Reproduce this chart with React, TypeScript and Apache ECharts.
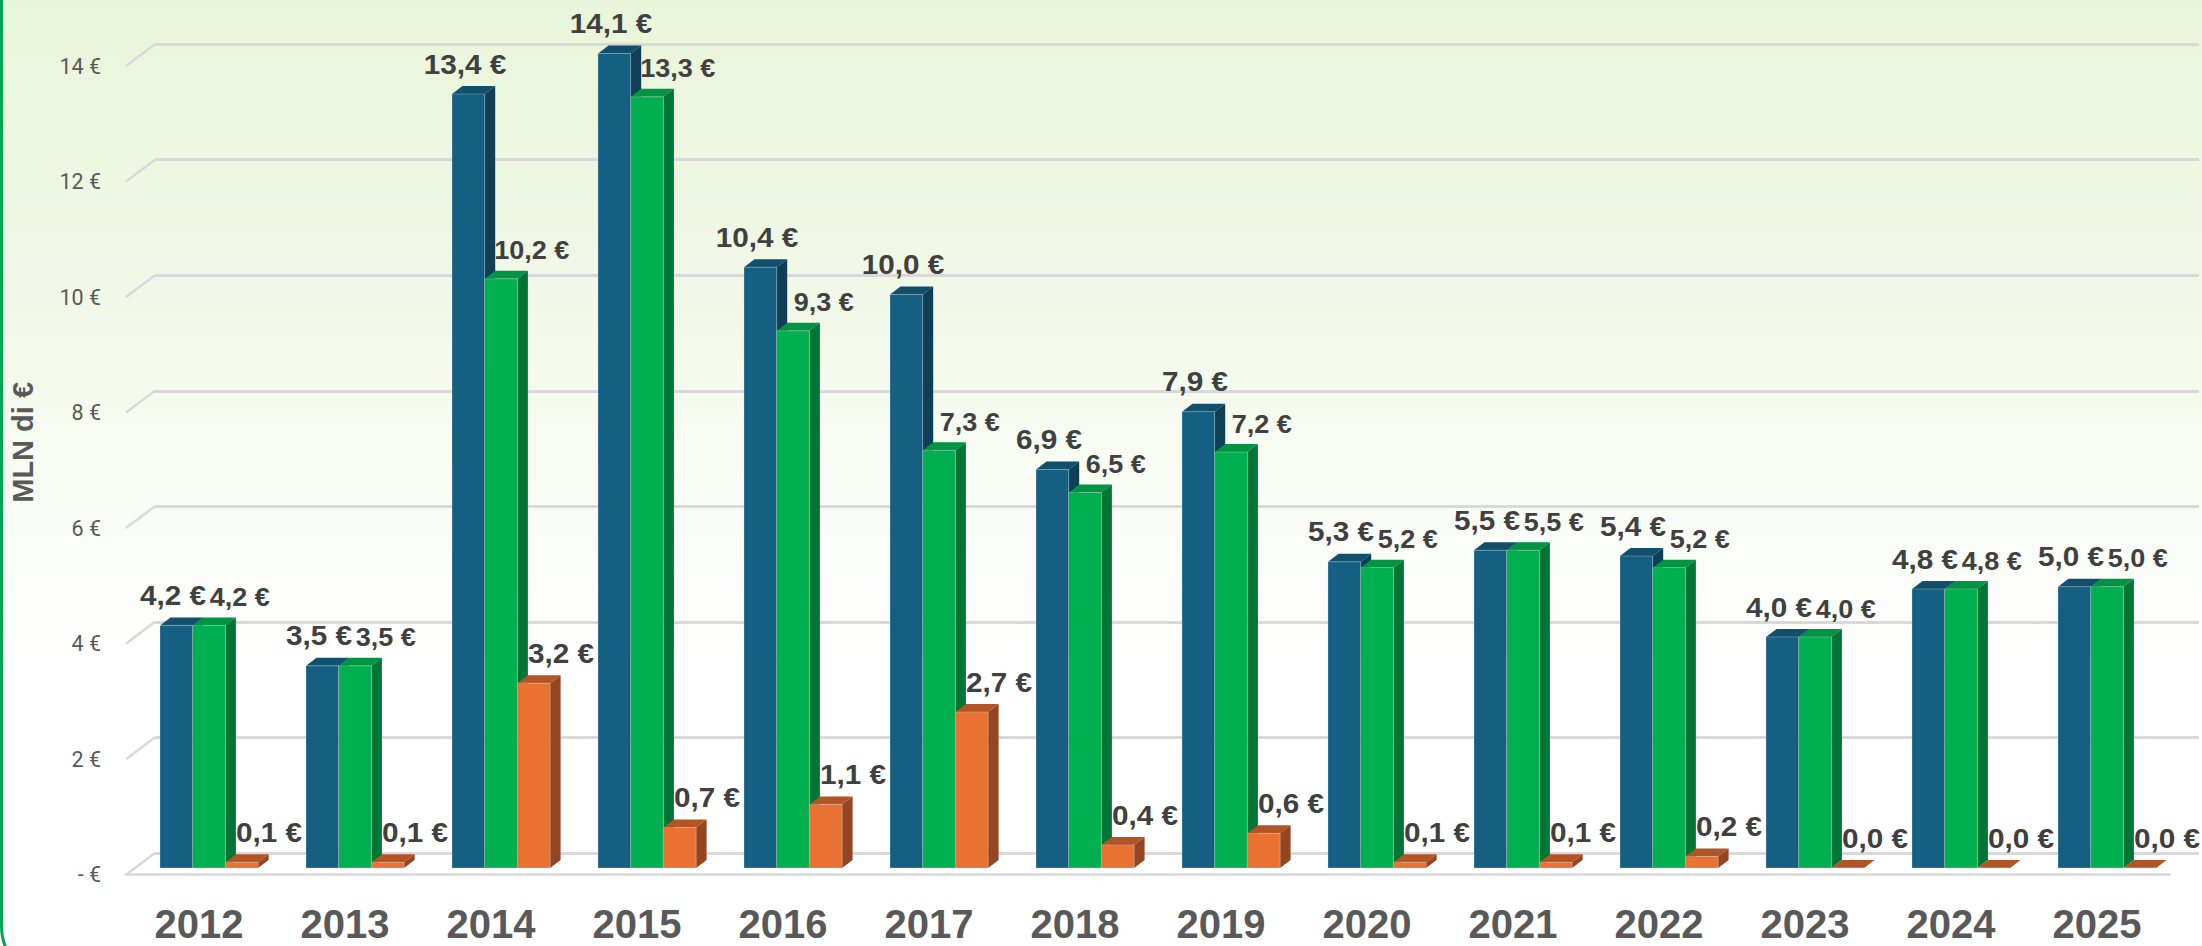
import React, { useEffect, useRef } from "react";
import * as echarts from "echarts";

const years = ["2012","2013","2014","2015","2016","2017","2018","2019","2020","2021","2022","2023","2024","2025"];
const blueValues = [4.2,3.5,13.4,14.1,10.4,9.93,6.9,7.9,5.3,5.5,5.4,4.0,4.83,4.87];
const greenValues = [4.2,3.5,10.2,13.35,9.3,7.23,6.5,7.2,5.2,5.5,5.2,4.0,4.83,4.87];
const orangeValues = [0.1,0.1,3.2,0.7,1.1,2.7,0.4,0.6,0.1,0.1,0.2,0.0,0.0,0.0];
const blueLabels = ["4,2 €","3,5 €","13,4 €","14,1 €","10,4 €","10,0 €","6,9 €","7,9 €","5,3 €","5,5 €","5,4 €","4,0 €","4,8 €","5,0 €"];
const greenLabels = ["4,2 €","3,5 €","10,2 €","13,3 €","9,3 €","7,3 €","6,5 €","7,2 €","5,2 €","5,5 €","5,2 €","4,0 €","4,8 €","5,0 €"];
const orangeLabels = ["0,1 €","0,1 €","3,2 €","0,7 €","1,1 €","2,7 €","0,4 €","0,6 €","0,1 €","0,1 €","0,2 €","0,0 €","0,0 €","0,0 €"];
const wallTicks = [0,2,4,6,8,10,12,14];

const BAR_W = 32.7, DEPTH_X = 10.5, DEPTH_Y = 8, GROUP_X = -39, BASE_DY = -6.7, TEXT_STRETCH = 1.08;

function barSeries(name: string, data: number[], labels: string[], slot: number, front: string, top: string, side: string, labelDx: number, labelDy: number, labelSize: number) {
  return {
    type: "custom", name, xAxisIndex: 0, yAxisIndex: 0, z: 5 + slot, clip: false,
    data: data.map((v, i) => [i, v]),
    renderItem: (params: any, api: any) => {
      const [cx, y1] = api.coord([api.value(0), api.value(1)]);
      const [, y0raw] = api.coord([api.value(0), 0]);
      const x = cx + GROUP_X + slot * BAR_W, y = y1 + BASE_DY, y0 = y0raw + BASE_DY;
      const w = BAR_W;
      return {
        type: "group",
        children: [
          { type: "polygon", shape: { points: [[x, y],[x + DEPTH_X, y - DEPTH_Y],[x + w + DEPTH_X, y - DEPTH_Y],[x + w, y]] }, style: { fill: top } },
          { type: "polygon", shape: { points: [[x + w, y],[x + w + DEPTH_X, y - DEPTH_Y],[x + w + DEPTH_X, y0 - DEPTH_Y],[x + w, y0]] }, style: { fill: side } },
          { type: "rect", shape: { x, y, width: w, height: y0 - y }, style: { fill: front, stroke: "rgba(217,222,222,0.3)", lineWidth: 1 } },
          { type: "text", z2: 50, x: x + labelDx, y: y + labelDy, scaleX: TEXT_STRETCH, style: { x: 0, y: 0, text: labels[params.dataIndex], fill: "#404040", font: `bold ${labelSize}px "Liberation Sans", Arial, sans-serif`, textAlign: "center", textVerticalAlign: "middle" } },
        ],
      };
    },
  };
}

export default function App() {
  const ref = useRef<HTMLDivElement>(null);
  useEffect(() => {
    document.body.style.margin = "0";
    const chart = echarts.init(ref.current!, null, { renderer: "svg" });
    chart.setOption({
      animation: false,
      grid: [
        { left: 126, right: 32, top: 66, height: 808.7 },
        { left: 155, right: 3, top: 44, height: 809.3 },
      ],
      xAxis: [
        { type: "category", gridIndex: 0, data: years, axisLine: { lineStyle: { color: "#D9D9D9", width: 2.5 } }, axisTick: { show: false },
          axisLabel: { color: "#595959", fontFamily: "Liberation Sans", fontWeight: "bold", fontSize: 40, margin: 29 } },
        { type: "category", gridIndex: 1, data: years, show: false },
      ],
      yAxis: [
        { type: "value", gridIndex: 0, min: 0, max: 14, interval: 2, splitLine: { show: false }, axisLine: { show: false }, axisTick: { show: false },
          name: "MLN di €", nameLocation: "middle", nameRotate: 90, nameGap: 89,
          nameTextStyle: { color: "#595959", fontFamily: "Liberation Sans", fontWeight: "bold", fontSize: 29, padding: [0, 0, 0, 56] },
          axisLabel: { color: "#595959", fontFamily: "Roboto", fontSize: 21.5, margin: 25, formatter: (v: number) => (v === 0 ? "- €" : v + " €") } },
        { type: "value", gridIndex: 1, min: 0, max: 14, interval: 2, axisLine: { show: false }, axisTick: { show: false }, axisLabel: { show: false },
          splitLine: { show: true, lineStyle: { color: "#D9D9D9", width: 3 } } },
      ],
      series: [
        { type: "custom", xAxisIndex: 0, yAxisIndex: 0, z: 1, clip: false, silent: true,
          data: wallTicks.map((t) => [0, t]),
          renderItem: (_: any, api: any) => {
            const band = api.size([1, 0])[0];
            const [cx, y] = api.coord([0, api.value(1)]);
            const x = cx - band / 2;
            return { type: "line", shape: { x1: x, y1: y, x2: x + 29, y2: y - 21.8 }, style: { stroke: "#D9D9D9", lineWidth: 2.5, fill: "none" } };
          } },
        barSeries("A", blueValues, blueLabels, 0, "#156082", "#114F6B", "#0E3F56", 13, -30, 27.5),
        barSeries("B", greenValues, greenLabels, 1, "#00B050", "#009444", "#007535", 47, -28, 25),
        barSeries("C", orangeValues, orangeLabels, 2, "#E97132", "#B25526", "#954520", 43.5, -30, 27.5),
      ],
    });
    return () => chart.dispose();
  }, []);
  return (
    <div style={{ position: "fixed", left: 0, top: 0, width: 2202, height: 946, overflow: "hidden", background: "linear-gradient(180deg,#E9F5DA 0%,#F1F8E7 30%,#FFFFFF 70%,#FFFFFF 100%)" }}>
      <div style={{ position: "absolute", left: 0, top: -10, width: 2300, height: 996, boxSizing: "border-box", borderLeft: "3px solid #00A651", borderBottom: "3px solid #00A651", borderRadius: "0 0 0 60px" }} />
      <div ref={ref} style={{ position: "absolute", left: 0, top: 0, width: 2202, height: 946 }} />
    </div>
  );
}
